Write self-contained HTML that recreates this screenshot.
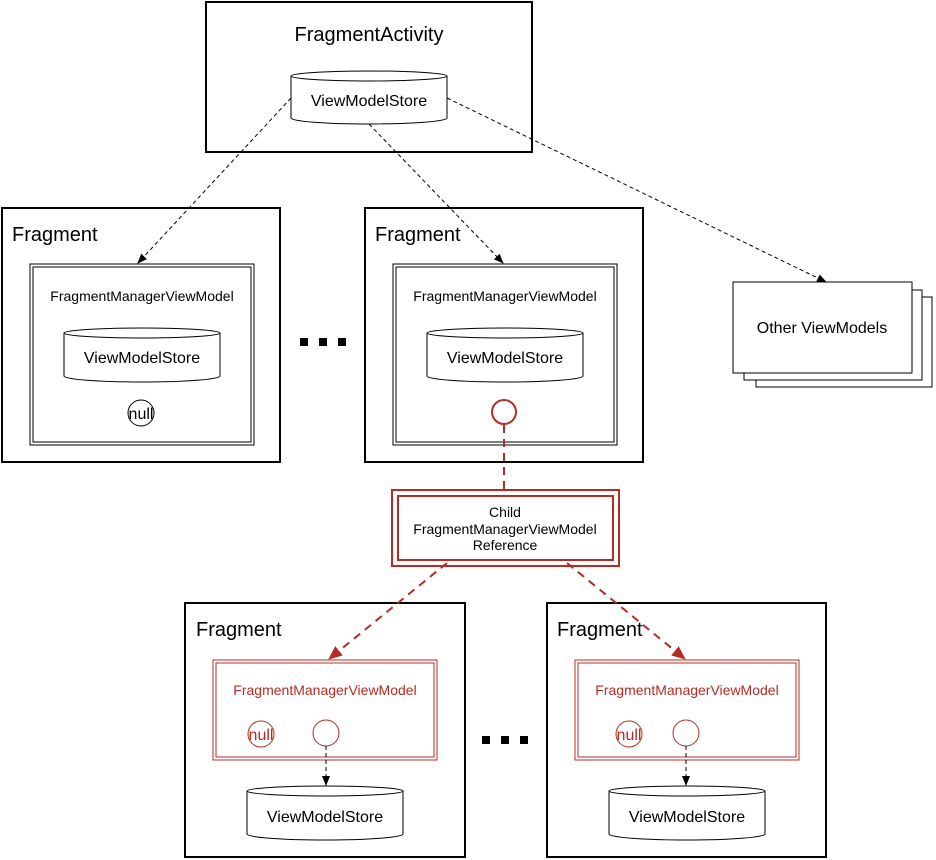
<!DOCTYPE html>
<html><head><style>body{margin:0;background:#fff}svg{display:block}text{font-family:"Liberation Sans",Arial,sans-serif}</style></head><body>
<svg width="936" height="860" viewBox="0 0 936 860" xmlns="http://www.w3.org/2000/svg">
<defs>
<marker id="ab" markerWidth="10" markerHeight="10" refX="9" refY="5" orient="auto" markerUnits="userSpaceOnUse"><path d="M0,1 L10,5 L0,9 Z" fill="#000"/></marker>
<marker id="ar" markerWidth="14" markerHeight="12" refX="13" refY="6" orient="auto" markerUnits="userSpaceOnUse"><path d="M0,0 L14,6 L0,12 Z" fill="#b52c24"/></marker>
</defs>
<g fill="none" stroke="#000">
<rect x="206" y="2" width="326" height="150" stroke-width="2"/>
<path d="M291,76 v42 a78,6 0 0 0 156,0 v-42" fill="#fff" stroke-width="1"/>
<ellipse cx="369" cy="76" rx="78" ry="5" fill="#fff" stroke-width="1"/>
<rect x="2" y="208" width="278" height="254" stroke-width="2"/>
<rect x="30" y="264" width="224" height="181"/>
<rect x="33" y="267" width="218" height="175"/>
<path d="M64,333 v43 a78,6 0 0 0 156,0 v-43" fill="#fff"/>
<ellipse cx="142" cy="333" rx="78" ry="5" fill="#fff"/>
<circle cx="141" cy="413" r="13"/>
<rect x="365" y="208" width="278" height="254" stroke-width="2"/>
<rect x="393" y="264" width="224" height="181"/>
<rect x="396" y="267" width="218" height="175"/>
<path d="M427,333 v43 a78,6 0 0 0 156,0 v-43" fill="#fff"/>
<ellipse cx="505" cy="333" rx="78" ry="5" fill="#fff"/>
<circle cx="504" cy="412" r="12" stroke="#b52c24" stroke-width="2"/>
<rect x="756" y="297" width="176" height="90" fill="#fff"/>
<rect x="744" y="290" width="178" height="90" fill="#fff"/>
<rect x="733" y="282" width="179" height="91" fill="#fff"/>
<rect x="185" y="603" width="280" height="254" stroke-width="2"/>
<rect x="547" y="603" width="279" height="254" stroke-width="2"/>
<g stroke="#b52c24">
<rect x="213" y="660" width="224" height="100"/>
<rect x="216" y="663" width="218" height="94"/>
<circle cx="261" cy="734" r="13"/>
<circle cx="326" cy="733" r="13"/>
<rect x="575" y="660" width="224" height="100"/>
<rect x="578" y="663" width="218" height="94"/>
<circle cx="629" cy="734" r="13"/>
<circle cx="686" cy="733" r="13"/>
<rect x="392" y="490" width="227" height="76" stroke-width="2"/>
<rect x="398" y="496" width="215" height="64" stroke-width="2"/>
</g>
<path d="M247,791 v43 a78,6 0 0 0 156,0 v-43" fill="#fff"/>
<ellipse cx="325" cy="791" rx="78" ry="5" fill="#fff"/>
<path d="M609,791 v43 a78,6 0 0 0 156,0 v-43" fill="#fff"/>
<ellipse cx="687" cy="791" rx="78" ry="5" fill="#fff"/>
<g stroke-dasharray="4,3">
<line x1="291" y1="98" x2="138" y2="263" marker-end="url(#ab)"/>
<line x1="369" y1="124" x2="503" y2="263" marker-end="url(#ab)"/>
<line x1="447" y1="98" x2="826" y2="282" marker-end="url(#ab)"/>
<line x1="326" y1="746" x2="326" y2="785" marker-end="url(#ab)"/>
<line x1="686" y1="746" x2="686" y2="785" marker-end="url(#ab)"/>
</g>
<g stroke="#b52c24" stroke-width="2" stroke-dasharray="8,6">
<line x1="504" y1="425" x2="504" y2="490"/>
<line x1="447" y1="563" x2="329" y2="659" marker-end="url(#ar)"/>
<line x1="567" y1="563" x2="685" y2="659" marker-end="url(#ar)"/>
</g>
</g>
<g fill="#000">
<rect x="300" y="338" width="8" height="8"/><rect x="319" y="338" width="8" height="8"/><rect x="338" y="338" width="8" height="8"/>
<rect x="482" y="736" width="8" height="8"/><rect x="501" y="736" width="8" height="8"/><rect x="520" y="736" width="8" height="8"/>
</g>
<g font-size="20" fill="#000">
<text x="369" y="41" text-anchor="middle">FragmentActivity</text>
<text x="12" y="241">Fragment</text>
<text x="375" y="241">Fragment</text>
<text x="196" y="636">Fragment</text>
<text x="557" y="636">Fragment</text>
</g>
<g font-size="16" fill="#000" text-anchor="middle">
<text x="369" y="106">ViewModelStore</text>
<text x="142" y="363">ViewModelStore</text>
<text x="505" y="363">ViewModelStore</text>
<text x="325" y="822">ViewModelStore</text>
<text x="687" y="822">ViewModelStore</text>
<text x="822" y="333">Other ViewModels</text>
</g>
<g font-size="14" text-anchor="middle">
<text x="142" y="301">FragmentManagerViewModel</text>
<text x="505" y="301">FragmentManagerViewModel</text>
<text x="325" y="695" fill="#b52c24">FragmentManagerViewModel</text>
<text x="687" y="695" fill="#b52c24">FragmentManagerViewModel</text>
<text x="505" y="517">Child</text>
<text x="505" y="534">FragmentManagerViewModel</text>
<text x="505" y="550">Reference</text>
<text x="141" y="419" font-size="16">null</text>
<text x="261" y="740" fill="#b52c24" font-size="16">null</text>
<text x="629" y="740" fill="#b52c24" font-size="16">null</text>
</g>
</svg>
</body></html>
